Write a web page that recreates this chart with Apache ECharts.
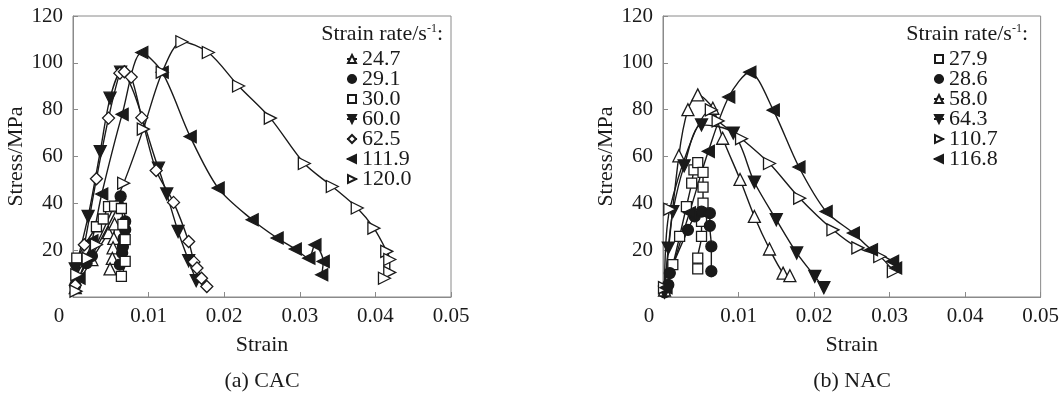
<!DOCTYPE html>
<html>
<head>
<meta charset="utf-8">
<script src="https://cdn.jsdelivr.net/npm/echarts/dist/echarts.min.js"></script>
<style>
  html, body { margin: 0; padding: 0; background: #fff; }
  #chart { width: 1062px; height: 396px; }
</style>
</head>
<body>
<div id="chart"></div>
<script>
// (a) CAC: strain-stress curves, [strain, stress/MPa]
const cacRates = ['24.7', '29.1', '30.0', '60.0', '62.5', '111.9', '120.0'];
const cac247 = [[0.0003, 4], [0.0025, 16], [0.0047, 27.5], [0.0055, 31.2], [0.0054, 25], [0.0053, 21], [0.0052, 16.5], [0.0049, 12]];
const cac291 = [[0.0003, 5], [0.0018, 14.5], [0.0025, 17.5], [0.006, 39], [0.0063, 43], [0.0069, 32.3], [0.0069, 28.7], [0.0067, 25], [0.0066, 21.5], [0.0065, 18.8], [0.0062, 13.8]];
const cac300 = [[0.0005, 16.6], [0.0031, 30], [0.004, 33.3], [0.0047, 38.6], [0.0055, 38.8], [0.0064, 37.8], [0.0066, 31], [0.0069, 24.5], [0.0069, 15.2], [0.0064, 8.8]];
const cac600 = [[0.0003, 12], [0.002, 34.4], [0.0036, 62.1], [0.0049, 84.9], [0.0063, 96], [0.0113, 55], [0.0124, 44], [0.0139, 28], [0.0153, 15.5], [0.0163, 7]];
const cac625 = [[0.0003, 5], [0.0015, 22.3], [0.0031, 50.5], [0.0047, 76.4], [0.0062, 95.6], [0.0068, 96.2], [0.0077, 93.9], [0.0091, 76.6], [0.011, 54], [0.0133, 40.4], [0.0153, 23.7], [0.016, 15], [0.0164, 12.4], [0.017, 8], [0.0177, 4.5]];
const cac1119 = [[0.0008, 8], [0.0025, 24], [0.0038, 44], [0.0065, 78], [0.0091, 104.4], [0.0118, 96], [0.0155, 68.5], [0.0192, 46.5], [0.0237, 33], [0.027, 25.2], [0.0294, 20.5], [0.0312, 16.6], [0.032, 22.3], [0.0331, 15.2], [0.0329, 9.5]];
const cac1200 = [[0.0004, 2.5], [0.0005, 9.5], [0.002, 16.5], [0.0031, 22.3], [0.0067, 48.6], [0.0093, 71.7], [0.0118, 96], [0.0144, 109], [0.0179, 104.4], [0.0219, 90.1], [0.0261, 76.4], [0.0306, 57], [0.0343, 47.2], [0.0376, 38], [0.0398, 29.4], [0.0415, 19.5], [0.0419, 16], [0.0419, 10.5], [0.0412, 8]];

// (b) NAC
const nacRates = ['27.9', '28.6', '58.0', '64.3', '110.7', '116.8'];
const nac279 = [[0.0002, 3], [0.0013, 13.8], [0.0022, 25.9], [0.0031, 38.6], [0.0038, 48.6], [0.0041, 54.3], [0.0046, 57.4], [0.0053, 53.2], [0.0053, 46.9], [0.0053, 40.1], [0.0051, 32.3], [0.0051, 25.9], [0.0046, 16.6], [0.0046, 12]];
const nac286 = [[0.0002, 2], [0.0007, 5.2], [0.0009, 10.2], [0.0033, 28.7], [0.0042, 34.4], [0.0051, 36.5], [0.0062, 35.8], [0.0062, 30.4], [0.0064, 21.6], [0.0064, 11]];
const nac580 = [[0.0002, 3], [0.0021, 60.3], [0.0033, 80], [0.0046, 86.3], [0.0066, 80.6], [0.0079, 67.8], [0.0102, 50.2], [0.0121, 34.4], [0.0141, 20.5], [0.0159, 10.2], [0.0168, 9.1]];
const nac643 = [[0.0002, 2], [0.0007, 20.9], [0.0013, 36.5], [0.0028, 56], [0.0051, 73.5], [0.0093, 70], [0.0121, 49], [0.015, 33], [0.0177, 18.8], [0.0201, 8.8], [0.0213, 4]];
const nac1107 = [[0.0002, 4], [0.0009, 37.5], [0.0064, 79.9], [0.0073, 75.2], [0.0104, 67.6], [0.0141, 57], [0.0181, 42.2], [0.0225, 28.7], [0.0258, 21], [0.0287, 17.3], [0.0305, 10.9]];
const nac1168 = [[0.0004, 4], [0.0035, 36], [0.006, 62.2], [0.0087, 85.4], [0.0115, 96], [0.0146, 79.8], [0.018, 55.5], [0.0216, 36.5], [0.0252, 27.3], [0.0276, 20.2], [0.0304, 15.2], [0.0308, 12.4]];

const xTicks = [0, 0.01, 0.02, 0.03, 0.04, 0.05];
const yTicks = [0, 20, 40, 60, 80, 100, 120];

const FONT = 'Liberation Serif';
const INK = '#1a1a1a';
const FRAME = '#8a8a8a';

// marker look for each curve
const mk = {
  up: {symbol: 'triangle', rotate: 0, size: 12, filled: false},
  down: {symbol: 'triangle', rotate: 180, size: 12, filled: true},
  left: {symbol: 'triangle', rotate: 90, size: 12, filled: true},
  right: {symbol: 'triangle', rotate: -90, size: 12, filled: false},
  dot: {symbol: 'circle', rotate: 0, size: 11, filled: true},
  box: {symbol: 'rect', rotate: 0, size: 10, filled: false},
  dia: {symbol: 'diamond', rotate: 0, size: 12, filled: false}
};

function curve(name, data, idx, m) {
  return {
    name: name,
    type: 'line',
    xAxisIndex: idx,
    yAxisIndex: idx,
    data: data,
    smooth: 0.3,
    symbol: m.symbol,
    symbolRotate: m.rotate,
    symbolSize: m.size,
    legendIcon: m.symbol,
    lineStyle: {color: INK, width: 1.4},
    itemStyle: {color: m.filled ? INK : '#fff', borderColor: INK, borderWidth: 1.3},
    emphasis: {disabled: true}
  };
}

function xAxis(idx) {
  return {
    gridIndex: idx,
    type: 'value',
    min: xTicks[0],
    max: xTicks[xTicks.length - 1],
    interval: 0.01,
    name: 'Strain',
    nameLocation: 'middle',
    nameGap: 37,
    nameTextStyle: {fontFamily: FONT, fontSize: 22, color: INK},
    axisLine: {show: true, lineStyle: {color: FRAME}},
    axisTick: {show: true, inside: true, length: 5, lineStyle: {color: FRAME}},
    splitLine: {show: false},
    axisLabel: {
      margin: 9,
      fontFamily: FONT,
      fontSize: 21,
      color: INK,
      formatter: function (v) {
        return v === 0 ? '{z|0}' : v.toFixed(2);
      },
      rich: {z: {padding: [0, 28, 0, 0]}}
    }
  };
}

function yAxis(idx) {
  return {
    gridIndex: idx,
    type: 'value',
    min: yTicks[0],
    max: yTicks[yTicks.length - 1],
    interval: 20,
    name: 'Stress/MPa',
    nameLocation: 'middle',
    nameGap: 45,
    nameTextStyle: {fontFamily: FONT, fontSize: 22, color: INK},
    axisLine: {show: true, lineStyle: {color: FRAME}},
    axisTick: {show: true, inside: true, length: 5, lineStyle: {color: FRAME}},
    splitLine: {show: false},
    axisLabel: {showMinLabel: false, margin: 10, fontFamily: FONT, fontSize: 21, color: INK}
  };
}

function legend(names, left) {
  return {
    orient: 'vertical',
    align: 'left',
    left: left,
    top: 43,
    padding: 5,
    data: names,
    itemWidth: 10,
    itemHeight: 10,
    itemGap: -2,
    selectedMode: false,
    textStyle: {fontFamily: FONT, fontSize: 22, color: INK}
  };
}

function legendTitle(x) {
  return {
    type: 'text',
    x: x,
    y: 34,
    style: {
      text: '{a|Strain rate/s}{b|-1}{a|:}',
      textAlign: 'right',
      textVerticalAlign: 'middle',
      rich: {
        a: {fontFamily: FONT, fontSize: 22, fill: INK},
        b: {fontFamily: FONT, fontSize: 12, fill: INK, verticalAlign: 'top'}
      }
    }
  };
}

function caption(text, x) {
  return {
    type: 'text',
    x: x,
    y: 381,
    style: {text: text, font: '22px "' + FONT + '"', fill: INK, textAlign: 'center', textVerticalAlign: 'middle'}
  };
}

const cacData = [cac247, cac291, cac300, cac600, cac625, cac1119, cac1200];
const cacMarks = [mk.up, mk.dot, mk.box, mk.down, mk.dia, mk.left, mk.right];
const nacData = [nac279, nac286, nac580, nac643, nac1107, nac1168];
const nacMarks = [mk.box, mk.dot, mk.up, mk.down, mk.right, mk.left];

const series = [];
cacData.forEach(function (d, i) { series.push(curve(cacRates[i], d, 0, cacMarks[i])); });
nacData.forEach(function (d, i) { series.push(curve(nacRates[i], d, 1, nacMarks[i])); });

const chart = echarts.init(document.getElementById('chart'));
chart.setOption({
  animation: false,
  backgroundColor: '#fff',
  grid: [
    {left: 73, top: 16, width: 378, height: 281, show: true, borderColor: FRAME, borderWidth: 1, backgroundColor: 'transparent'},
    {left: 663, top: 16, width: 378, height: 281, show: true, borderColor: FRAME, borderWidth: 1, backgroundColor: 'transparent'}
  ],
  xAxis: [xAxis(0), xAxis(1)],
  yAxis: [yAxis(0), yAxis(1)],
  legend: [legend(cacRates, 341), legend(nacRates, 928)],
  graphic: [legendTitle(443), legendTitle(1028), caption('(a) CAC', 262), caption('(b) NAC', 852)],
  series: series
});
</script>
</body>
</html>
